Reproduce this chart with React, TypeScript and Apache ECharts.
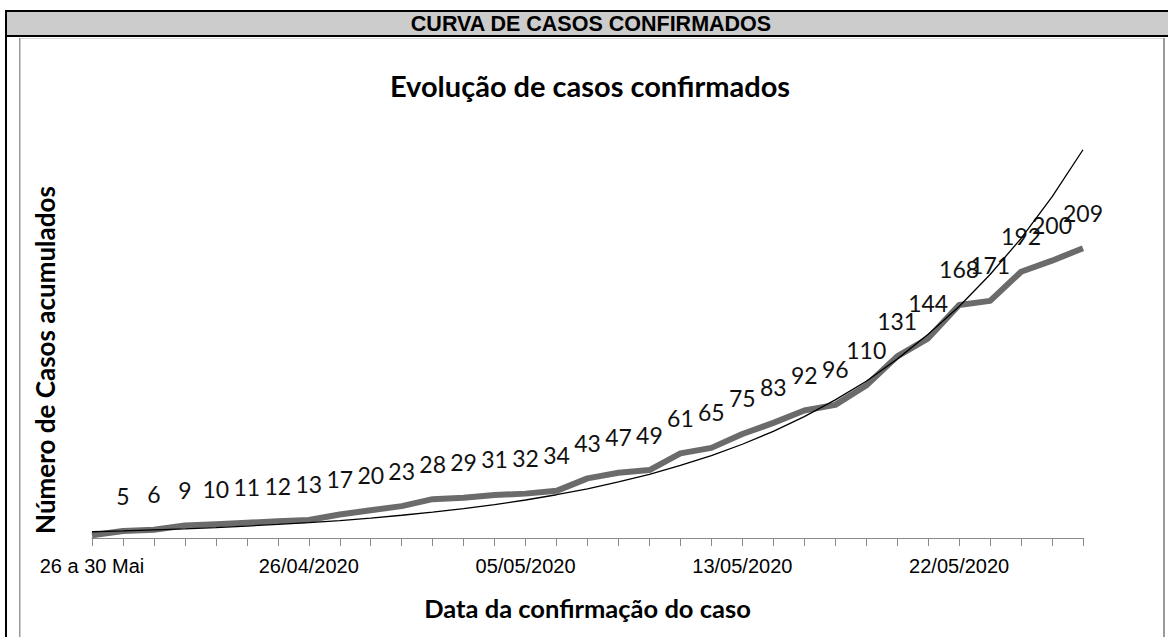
import React, { useEffect, useRef } from "react";
import * as echarts from "echarts";

// Category labels (only the ones printed on the axis are known)
const categories: string[] = [
  "26 a 30 Mai", "", "", "", "", "", "", "26/04/2020", "", "", "", "", "", "",
  "05/05/2020", "", "", "", "", "", "", "13/05/2020", "", "", "", "", "", "",
  "22/05/2020", "", "", "", "",
];

// Accumulated confirmed cases (grey line)
const casos: number[] = [
  2, 5, 6, 9, 10, 11, 12, 13, 17, 20, 23, 28, 29, 31, 32, 34, 43, 47, 49, 61,
  65, 75, 83, 92, 96, 110, 131, 144, 168, 171, 192, 200, 209,
];

// Thin black trend line
const tendencia: number[] = [
  4.5, 5.1, 5.8, 6.6, 7.5, 8.6, 9.8, 11.1, 12.6, 14.4, 16.4, 18.6, 21.2, 24.1,
  27.4, 31.2, 35.5, 40.4, 45.9, 52.3, 59.4, 67.6, 76.9, 87.5, 99.6, 113, 129,
  147, 167, 190, 216, 246, 280,
];

const headerText = "CURVA DE CASOS CONFIRMADOS";
const titleText = "Evolução de casos confirmados";
const yName = "Número de Casos acumulados";
const xName = "Data da confirmação do caso";

export default function App() {
  const ref = useRef<HTMLDivElement>(null);

  useEffect(() => {
    document.body.style.margin = "0";
    if (!ref.current) return;
    const chart = echarts.init(ref.current, null, { renderer: "svg" });
    chart.setOption({
      animation: false,
      backgroundColor: "#ffffff",
      title: {
        text: titleText,
        left: 585,
        textAlign: "center",
        top: 66,
        textStyle: {
          fontFamily: "Lato",
          fontWeight: "bold",
          fontSize: 29,
          color: "#000",
        },
      },
      grid: { left: 92, right: 85, top: 122, bottom: 99, containLabel: false },
      xAxis: {
        type: "category",
        data: categories,
        boundaryGap: false,
        name: xName,
        nameLocation: "middle",
        nameGap: 57,
        nameTextStyle: {
          fontFamily: "Lato",
          fontWeight: "bold",
          fontSize: 25.5,
          color: "#000",
        },
        axisLine: { show: true, lineStyle: { color: "#8a8a8a", width: 1 } },
        axisTick: {
          show: true,
          interval: 0,
          length: 8,
          lineStyle: { color: "#8a8a8a", width: 1 },
        },
        axisLabel: {
          interval: 6,
          margin: 18,
          fontFamily: "Liberation Sans",
          fontSize: 20,
          color: "#000",
        },
        splitLine: { show: false },
      },
      yAxis: {
        type: "value",
        min: 0,
        max: 300,
        axisLine: { show: false },
        axisTick: { show: false },
        axisLabel: { show: false },
        splitLine: { show: false },
      },
      series: [
        {
          type: "line",
          data: casos,
          symbol: "circle",
          symbolSize: 0.1,
          showSymbol: true,
          z: 2,
          itemStyle: { color: "#6b6b6b" },
          lineStyle: { color: "#6b6b6b", width: 6, join: "round" },
          label: {
            show: true,
            position: "top",
            distance: 24,
            fontFamily: "Lato",
            fontSize: 23,
            color: "#111",
            formatter: (p: any) => (p.dataIndex === 0 ? "" : String(p.value)),
          },
        },
        {
          type: "line",
          data: tendencia,
          symbol: "none",
          z: 3,
          silent: true,
          lineStyle: { color: "#000000", width: 1.3 },
        },
      ],
      graphic: [
        { type: "rect", shape: { x: 5, y: 10, width: 2, height: 627 }, style: { fill: "#000" } },
        { type: "rect", shape: { x: 5, y: 10, width: 1163, height: 2 }, style: { fill: "#000" } },
        { type: "rect", shape: { x: 7, y: 12, width: 1161, height: 23 }, style: { fill: "#cccccc" } },
        { type: "rect", shape: { x: 5, y: 35, width: 1163, height: 2 }, style: { fill: "#000" } },
        { type: "rect", shape: { x: 19, y: 38, width: 1145, height: 1 }, style: { fill: "#d8d8d8" } },
        { type: "rect", shape: { x: 19, y: 38, width: 1.5, height: 599 }, style: { fill: "#9a9a9a" } },
        { type: "rect", shape: { x: 1163, y: 38, width: 2, height: 599 }, style: { fill: "#9a9a9a" } },
        {
          type: "text",
          x: 591,
          y: 24,
          style: {
            text: headerText,
            font: 'bold 21.5px "Liberation Sans", Arial, sans-serif',
            fill: "#000",
            align: "center",
            verticalAlign: "middle",
            textAlign: "center",
            textVerticalAlign: "middle",
          },
        },
        {
          type: "text",
          x: 45,
          y: 360,
          rotation: Math.PI / 2,
          style: {
            text: yName,
            font: "bold 26px Lato, sans-serif",
            fill: "#000",
            align: "center",
            verticalAlign: "middle",
            textAlign: "center",
            textVerticalAlign: "middle",
          },
        },
      ],
    });
    return () => chart.dispose();
  }, []);

  return <div ref={ref} style={{ width: 1168, height: 637 }} />;
}
